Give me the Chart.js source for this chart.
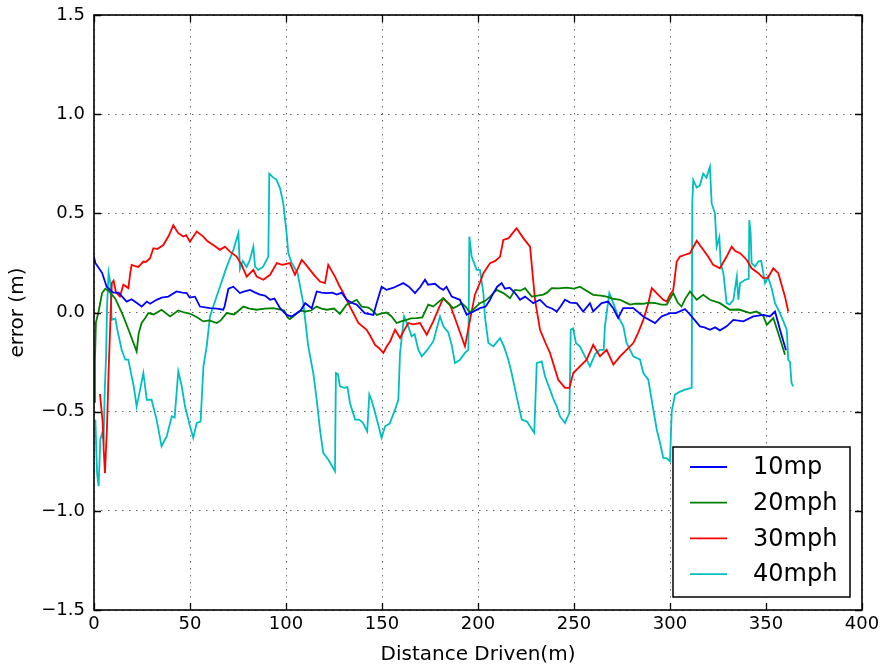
<!DOCTYPE html>
<html>
<head>
<meta charset="utf-8">
<title>Tracking error vs distance</title>
<script src="https://cdn.jsdelivr.net/npm/chart.js@4.4.1/dist/chart.umd.min.js"></script>
<style>
  html, body { margin: 0; padding: 0; background: #ffffff; }
  #wrap { width: 888px; height: 670px; }
</style>
</head>
<body>
<div id="wrap"><canvas id="c" width="888" height="670"></canvas></div>
<script>
// Lateral error (m) against distance driven (m), one run per speed.
// Each entry is [distance, error].
const run10 = [[0,0.28],[0.7,0.25],[4.2,0.20],[6.6,0.13],[10,0.10],[12.8,0.10],[17,0.055],[19.6,0.067],[22,0.05],[24.8,0.03],[27.5,0.055],[29.2,0.044],[32.6,0.064],[35.2,0.075],[38.7,0.08],[43,0.106],[46,0.10],[48.3,0.098],[49.8,0.075],[52.6,0.08],[55.2,0.03],[60.4,0.022],[64,0.02],[67.3,0.014],[68,0.03],[70,0.12],[72.6,0.13],[76,0.098],[78,0.105],[81.3,0.114],[84,0.10],[86.5,0.09],[89,0.085],[91.7,0.064],[94,0.07],[96.9,0.022],[100.3,-0.012],[103,-0.02],[107.6,0.01],[110,0.047],[113.4,0.022],[116,0.106],[118.5,0.10],[121.2,0.098],[124,0.10],[126.5,0.09],[129,0.10],[131.6,0.064],[134,0.05],[136.8,0.04],[141,-0.003],[145.5,-0.012],[147.2,0.047],[149.8,0.13],[152.4,0.114],[156,0.125],[161.1,0.148],[164,0.13],[167.2,0.098],[170,0.13],[172.4,0.165],[174,0.14],[177.6,0.145],[180,0.125],[181.9,0.114],[183.6,0.13],[186.3,0.08],[190.6,0.064],[194.1,-0.012],[197.6,0.005],[201,0.022],[204,0.03],[206,0.06],[208,0.098],[210,0.13],[212.3,0.148],[214,0.12],[216.5,0.125],[219.3,0.098],[221.9,0.064],[224.5,0.08],[226.5,0.065],[228.8,0.047],[232.3,0.064],[235.8,0.03],[238.5,0.02],[241,0.005],[243,0.03],[245.3,0.064],[248,0.05],[251.4,0.047],[254.8,0.005],[258.3,0.047],[260,0.005],[264.4,0.047],[267.8,0.055],[270.5,0.02],[273,-0.028],[275.6,0.022],[280.9,0.022],[286.1,-0.02],[292.2,-0.053],[295.6,-0.02],[300,-0.003],[303,-0.003],[307.8,0.017],[310.4,-0.01],[313,-0.04],[315.6,-0.07],[318,-0.075],[320.8,-0.087],[323.5,-0.075],[326,-0.09],[329.5,-0.07],[333,-0.037],[338.2,-0.045],[343.4,-0.02],[348.6,-0.012],[352,-0.02],[354.7,0.005],[357.3,-0.087],[360.4,-0.19]];

const run20 = [[0,-0.45],[0.5,-0.24],[1,-0.05],[2.4,0.005],[4.2,0.098],[5.9,0.12],[7.6,0.11],[11.1,0.07],[14.6,-0.003],[18,-0.087],[22.2,-0.196],[23.3,-0.104],[24.8,-0.053],[26.7,-0.028],[28.3,-0.003],[31,-0.01],[35.2,0.014],[39.6,-0.02],[43.9,0.01],[47,0.0],[49.8,-0.005],[53,-0.02],[57,-0.045],[60,-0.04],[63.9,-0.053],[66,-0.04],[69.1,-0.003],[73,-0.01],[77.8,0.03],[81,0.02],[84.7,0.014],[89,0.02],[93.4,0.022],[97,0.015],[99,0.01],[101.2,-0.028],[102,-0.033],[105,-0.01],[107.6,0.01],[110,0.005],[113,0.01],[116,0.03],[118.5,0.02],[121.2,0.014],[125,0.02],[128.1,-0.007],[131.6,0.04],[134,0.05],[136.8,0.064],[139.4,0.03],[142.9,0.025],[145,0.01],[147.2,-0.012],[150,-0.005],[152.4,0.0],[155,-0.02],[157.6,-0.053],[160,-0.045],[162.8,-0.037],[165,-0.03],[168,-0.028],[171,-0.025],[174.1,0.04],[176.7,0.03],[179,0.05],[181.9,0.072],[184,0.05],[187.1,0.022],[189,0.03],[191.5,0.047],[193.5,0.03],[195.8,0.0],[198,0.02],[201,0.047],[204,0.06],[206.3,0.08],[209.7,0.114],[213.2,0.098],[216.7,0.072],[219.3,0.114],[222,0.11],[224.5,0.123],[228,0.08],[231,0.085],[234,0.09],[236,0.1],[238.4,0.123],[242,0.122],[246,0.125],[250,0.12],[253.1,0.13],[256.5,0.11],[260,0.089],[264,0.085],[267,0.08],[270,0.07],[274,0.064],[277,0.05],[279.2,0.04],[282,0.045],[286.1,0.044],[289,0.05],[292,0.048],[295.5,0.04],[298.3,0.04],[301.7,0.098],[304,0.05],[306,0.03],[308,0.07],[310.4,0.106],[313.9,0.064],[317.3,0.089],[320.8,0.064],[326,0.047],[331.2,0.014],[336,0.015],[341.7,-0.003],[345,0.005],[348.6,-0.017],[350.4,-0.062],[353.8,-0.028],[356.4,-0.104],[359.9,-0.213]];

const run30 = [[3.1,-0.41],[4.5,-0.55],[5.1,-0.7],[5.7,-0.81],[6.8,-0.57],[7.6,-0.3],[8.5,-0.053],[9.3,0.148],[10.2,0.16],[11.5,0.1],[13.5,0.08],[15.3,0.14],[17.9,0.123],[18.9,0.2],[19.6,0.24],[21,0.235],[23.1,0.23],[24.1,0.24],[25.7,0.257],[27,0.255],[29.2,0.274],[30.9,0.324],[33,0.32],[36.1,0.34],[38.7,0.383],[40,0.41],[41.3,0.44],[43.9,0.4],[46.5,0.383],[48,0.39],[50,0.357],[51.5,0.38],[53.5,0.408],[56.9,0.383],[59,0.36],[62.1,0.34],[65.6,0.316],[68.2,0.332],[70.8,0.307],[74.3,0.282],[76.9,0.24],[79.5,0.181],[83,0.215],[84.7,0.181],[88.2,0.165],[91.7,0.19],[95.2,0.249],[98,0.24],[102,0.249],[104.7,0.19],[108.2,0.265],[110,0.245],[112.5,0.215],[115,0.185],[117.7,0.156],[120.3,0.148],[122,0.24],[125.5,0.181],[127.5,0.14],[129.9,0.098],[133.3,0.03],[137.7,-0.053],[142,-0.087],[144,-0.12],[146.4,-0.163],[148.5,-0.18],[150.7,-0.204],[152.5,-0.17],[154.2,-0.146],[156.8,-0.087],[159.4,-0.128],[161.5,-0.09],[163.7,-0.053],[166,-0.06],[169.8,-0.053],[173.3,-0.112],[176.7,-0.045],[179.5,0.02],[181.9,0.072],[185.4,0.04],[188.9,-0.053],[193.2,-0.171],[195.8,-0.04],[198.4,0.09],[201,0.15],[202.8,0.198],[206.3,0.249],[209,0.26],[211.5,0.282],[213.2,0.366],[216,0.375],[218,0.40],[220.1,0.425],[223.6,0.375],[227.1,0.332],[229.7,0.064],[232.3,-0.087],[235,-0.15],[237.5,-0.204],[241.8,-0.339],[245.3,-0.38],[247.6,-0.38],[249.6,-0.305],[253.1,-0.272],[256.6,-0.238],[260,-0.163],[263.5,-0.221],[267,-0.188],[270.5,-0.263],[274,-0.221],[277.4,-0.188],[280.9,-0.154],[283.5,-0.1],[286.1,-0.037],[288.7,0.047],[290.5,0.123],[293,0.098],[296.5,0.064],[298.3,0.055],[300,0.09],[301.7,0.114],[303.5,0.257],[305.2,0.282],[307.5,0.29],[310.4,0.299],[313.9,0.362],[317.3,0.316],[320,0.28],[322.5,0.24],[326,0.223],[329.5,0.282],[332.1,0.332],[334,0.31],[336.5,0.299],[340,0.265],[342.5,0.223],[346,0.198],[348.6,0.173],[351,0.175],[353.8,0.223],[356.4,0.198],[359.9,0.08],[361.6,0.005]];

const run40 = [[0.7,-0.54],[1.6,-0.81],[2.4,-0.876],[3.3,-0.64],[4.2,-0.61],[5,-0.64],[5.6,-0.39],[6.3,-0.22],[6.8,0.03],[7.6,0.2],[8.5,0.15],[9.2,-0.037],[11.1,-0.03],[12,-0.08],[14.4,-0.188],[16.3,-0.238],[17.9,-0.238],[19.6,-0.322],[20.7,-0.372],[22.2,-0.473],[24,-0.389],[25.7,-0.305],[27.5,-0.44],[30,-0.44],[32.6,-0.54],[35.2,-0.674],[37.9,-0.624],[40.5,-0.523],[42,-0.53],[43.9,-0.297],[45.7,-0.372],[47.4,-0.473],[50,-0.574],[51.7,-0.632],[53.5,-0.557],[55.5,-0.55],[57,-0.272],[58.7,-0.171],[60.4,-0.02],[62.1,0.03],[65.6,0.13],[69.1,0.23],[72.6,0.316],[75.2,0.4],[76,0.22],[77.5,0.26],[79.5,0.23],[81,0.26],[83,0.332],[83.9,0.23],[85.6,0.215],[88,0.23],[90.8,0.282],[91.3,0.70],[93.4,0.68],[95,0.67],[96.9,0.626],[98.6,0.55],[100.3,0.4],[101.2,0.3],[103,0.249],[106,0.2],[109,0.047],[111.6,-0.171],[114.2,-0.305],[116,-0.44],[117.7,-0.59],[119.4,-0.708],[122,-0.741],[125.5,-0.8],[126,-0.305],[127,-0.31],[128.1,-0.372],[130.5,-0.38],[132,-0.375],[133.3,-0.456],[136,-0.54],[138,-0.54],[140,-0.555],[142.3,-0.599],[143.4,-0.414],[144.5,-0.44],[146.4,-0.506],[148,-0.565],[149.8,-0.632],[151.6,-0.574],[154,-0.56],[156.8,-0.49],[158.5,-0.44],[159.4,-0.204],[161.5,-0.02],[163.7,-0.07],[165.4,-0.12],[167,-0.11],[168.9,-0.188],[170.7,-0.221],[173.5,-0.19],[176.7,-0.146],[180.2,-0.02],[182,-0.07],[184.5,-0.1],[186.3,-0.163],[188,-0.255],[190.5,-0.24],[193.2,-0.204],[195,-0.188],[195.5,0.383],[196.7,0.282],[199.3,0.215],[201,0.215],[202.8,0.098],[203.6,-0.02],[205.4,-0.154],[208,-0.171],[211.5,-0.129],[213.5,-0.171],[215.8,-0.238],[217.5,-0.305],[220.1,-0.423],[222.8,-0.54],[225.5,-0.55],[229.3,-0.607],[230.6,-0.255],[233.2,-0.247],[234.9,-0.322],[237.5,-0.389],[239,-0.43],[241,-0.473],[242.7,-0.524],[245.3,-0.557],[247.6,-0.506],[248.3,-0.087],[249.5,-0.08],[251,-0.154],[253,-0.17],[255.7,-0.221],[258.3,-0.272],[261,-0.21],[263.5,-0.188],[265.5,-0.188],[266.1,-0.07],[268.4,0.098],[270.5,0.047],[273,-0.02],[275.7,-0.07],[277.4,-0.154],[280.9,-0.221],[284.4,-0.238],[286.1,-0.305],[288.7,-0.339],[291.3,-0.49],[293.1,-0.59],[294.8,-0.657],[296.5,-0.733],[298.3,-0.735],[300,-0.75],[300.9,-0.5],[302.6,-0.414],[305,-0.40],[307.8,-0.389],[311.3,-0.38],[311.6,0.55],[312.1,0.668],[313.9,0.63],[315.5,0.64],[317.3,0.7],[319,0.68],[320.8,0.735],[321.7,0.55],[323.4,0.5],[324.3,0.332],[325.7,0.38],[326.4,0.249],[327.8,0.198],[329.5,0.047],[331,0.04],[333,0.064],[334.8,0.181],[335.6,0.064],[336.5,0.148],[339.1,0.165],[341,0.17],[341.3,0.466],[342,0.4],[342.5,0.249],[344.3,0.232],[346,0.257],[347.5,0.26],[349.5,0.148],[351,0.18],[353,0.12],[354.7,0.047],[357.3,-0.003],[360.8,-0.087],[361.6,-0.238],[362.5,-0.25],[363.3,-0.355],[364.2,-0.373]];

const seriesLabels = ['10mp', '20mph', '30mph', '40mph'];
const seriesColors = ['#0000ff', '#008000', '#ff0000', '#00bfbf'];
const xTickValues = [0, 50, 100, 150, 200, 250, 300, 350, 400];
const yTickValues = [-1.5, -1.0, -0.5, 0.0, 0.5, 1.0, 1.5];
const xTitle = 'Distance Driven(m)';
const yTitle = 'error (m)';

const FONT = "'DejaVu Sans', 'Liberation Sans', sans-serif";

// Inward tick marks on all four sides plus the full axes frame.
const framePlugin = {
  id: 'frame',
  afterDatasetsDraw(chart) {
    const { ctx, chartArea: a, scales: { x, y } } = chart;
    const len = 7;
    ctx.save();
    ctx.strokeStyle = '#000';
    ctx.lineWidth = 1.3;
    ctx.beginPath();
    x.ticks.forEach(t => {
      const px = Math.round(x.getPixelForValue(t.value)) + 0.5;
      ctx.moveTo(px, a.bottom); ctx.lineTo(px, a.bottom - len);
      ctx.moveTo(px, a.top); ctx.lineTo(px, a.top + len);
    });
    y.ticks.forEach(t => {
      const py = Math.round(y.getPixelForValue(t.value)) + 0.5;
      ctx.moveTo(a.left, py); ctx.lineTo(a.left + len, py);
      ctx.moveTo(a.right, py); ctx.lineTo(a.right - len, py);
    });
    ctx.stroke();
    ctx.lineWidth = 1.6;
    ctx.strokeRect(a.left, a.top, a.right - a.left, a.bottom - a.top);
    ctx.restore();
  }
};

// Boxed legend in the lower-right corner of the plot area.
const legendPlugin = {
  id: 'boxLegend',
  afterDraw(chart) {
    const { ctx, chartArea: a } = chart;
    const w = 177, h = 150;
    const bx = a.right - 12 - w, by = a.bottom - 13 - h;
    ctx.save();
    ctx.fillStyle = '#fff';
    ctx.fillRect(bx, by, w, h);
    ctx.strokeStyle = '#000';
    ctx.lineWidth = 1.5;
    ctx.strokeRect(bx, by, w, h);
    ctx.font = '24px ' + FONT;
    ctx.textBaseline = 'middle';
    ctx.textAlign = 'left';
    chart.data.datasets.forEach((ds, i) => {
      const cy = by + 20 + i * 35.7;
      ctx.strokeStyle = ds.borderColor;
      ctx.lineWidth = 1.8;
      ctx.beginPath();
      ctx.moveTo(bx + 17, cy); ctx.lineTo(bx + 54, cy);
      ctx.stroke();
      ctx.fillStyle = '#000';
      ctx.fillText(ds.label, bx + 80, cy + 1);
    });
    ctx.restore();
  }
};

const runs = [run10, run20, run30, run40];

new Chart(document.getElementById('c'), {
  type: 'scatter',
  data: {
    datasets: runs.map((run, i) => ({
      label: seriesLabels[i],
      data: run.map(p => ({ x: p[0], y: p[1] })),
      showLine: true,
      borderColor: seriesColors[i],
      backgroundColor: seriesColors[i],
      borderWidth: 1.8,
      pointRadius: 0,
      pointHoverRadius: 0,
      tension: 0
    }))
  },
  options: {
    responsive: false,
    animation: false,
    devicePixelRatio: 1,
    layout: { padding: { top: 15, right: 26, left: 0, bottom: 0 } },
    plugins: { legend: { display: false }, tooltip: { enabled: false } },
    scales: {
      x: {
        type: 'linear',
        min: 0, max: 400,
        afterBuildTicks: s => { s.ticks = xTickValues.map(v => ({ value: v })); },
        afterFit: s => { s.height = 60; },
        ticks: {
          font: { family: FONT, size: 18 },
          color: '#000',
          padding: 4,
          maxRotation: 0,
          callback: v => String(v)
        },
        grid: { color: 'rgba(0,0,0,0.6)', lineWidth: 1, drawTicks: false },
        border: { display: false, dash: [1.5, 5.5] },
        title: {
          display: true, text: xTitle, color: '#000',
          font: { family: FONT, size: 20 },
          padding: { top: 0, bottom: 3 }
        }
      },
      y: {
        type: 'linear',
        min: -1.5, max: 1.5,
        afterBuildTicks: s => { s.ticks = yTickValues.map(v => ({ value: v })); },
        afterFit: s => { s.width = 94; s.paddingTop = 10; s.paddingBottom = 10; },
        ticks: {
          font: { family: FONT, size: 18 },
          color: '#000',
          padding: 9,
          callback: v => v.toFixed(1).replace('-', '\u2212')
        },
        grid: { color: 'rgba(0,0,0,0.6)', lineWidth: 1, drawTicks: false },
        border: { display: false, dash: [1.5, 5.5] },
        title: {
          display: true, text: yTitle, color: '#000',
          font: { family: FONT, size: 20 },
          padding: { top: 6, bottom: 0 }
        }
      }
    }
  },
  plugins: [framePlugin, legendPlugin]
});
</script>
</body>
</html>
